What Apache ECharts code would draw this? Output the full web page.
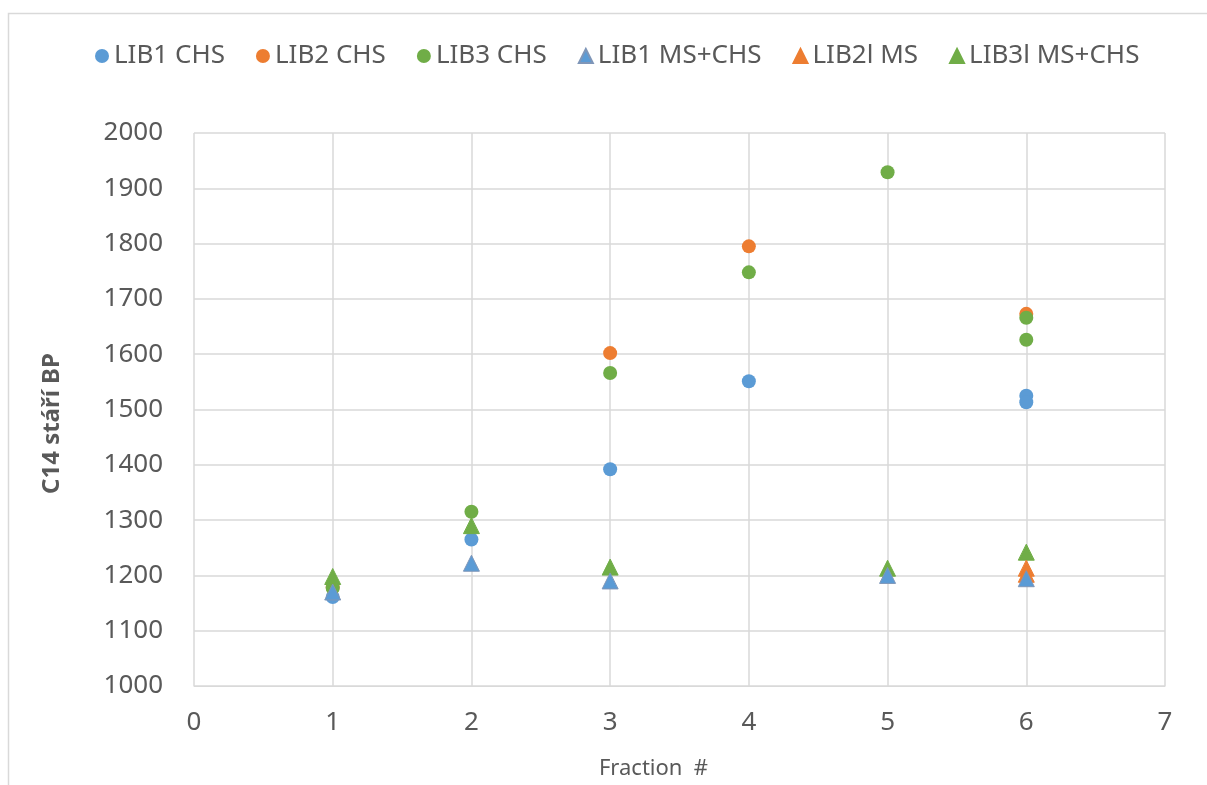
<!DOCTYPE html>
<html><head><meta charset="utf-8">
<script src="https://cdn.jsdelivr.net/npm/echarts@6/dist/echarts.min.js"></script>
<style>html,body{margin:0;padding:0;background:#fff}#c{width:1207px;height:785px}</style>
</head><body><div id="c"></div>
<script>
const seriesNames = ['LIB1 CHS','LIB2 CHS','LIB3 CHS','LIB1 MS+CHS','LIB2l MS','LIB3l MS+CHS'];
const lib1CHS = [[1,1161],[2,1265],[3,1392],[4,1551],[6,1525],[6,1513]];
const lib2CHS = [[1,1178],[3,1602],[4,1795],[6,1673]];
const lib3CHS = [[1,1177],[2,1315],[3,1566],[4,1748],[5,1929],[6,1666],[6,1626]];
const lib1MS = [[1,1170],[2,1222],[3,1190],[5,1200],[6,1194]];
const lib2MS = [[6,1213],[6,1202]];
const lib3MS = [[1,1198],[2,1290],[3,1215],[5,1213],[6,1242]];
const xTicks = {min:0,max:7,interval:1};
const yTicks = {min:1000,max:2000,interval:100};

const blue='#5B9BD5', orange='#ED7D31', green='#70AD47';
const font='"Noto Sans", sans-serif';
const txt='#595959';
function mk(name,data,color,symbol,size,z){
  return {name,type:'scatter',data,symbol,symbolSize:size,z,
    itemStyle:{color,borderColor: symbol==='triangle'&&color===blue?'#7f96b8':color,borderWidth: symbol==='triangle'?1:0,opacity:1}};
}
const chart = echarts.init(document.getElementById('c'));
chart.setOption({
  animation:false,
  graphic:[{type:'rect',shape:{x:8.5,y:13.5,width:1220,height:800},style:{fill:'none',stroke:'#d9d9d9',lineWidth:1.5},silent:true}],
  legend:{top:38,left:90,itemGap:31,itemWidth:14,itemHeight:14,
    textStyle:{fontFamily:font,fontSize:26,color:txt},
    data:seriesNames.map((n,i)=>({name:n,icon:i<3?'circle':'triangle'}))},
  grid:{left:194,right:42,top:133,bottom:99},
  xAxis:{type:'value',min:xTicks.min,max:xTicks.max,interval:xTicks.interval,
    name:'Fraction  #',nameLocation:'middle',nameGap:72,
    nameTextStyle:{fontFamily:font,fontSize:22,color:txt,padding:[0,52,0,0]},
    axisLine:{show:true,lineStyle:{color:'#d9d9d9'}},axisTick:{show:false},
    axisLabel:{fontFamily:font,fontSize:26,color:txt,margin:24},
    splitLine:{show:true,lineStyle:{color:'#d9d9d9',width:1.5}}},
  yAxis:{type:'value',min:yTicks.min,max:yTicks.max,interval:yTicks.interval,
    name:'C14 stáří BP',nameLocation:'middle',nameGap:130,
    nameTextStyle:{fontFamily:font,fontSize:24,color:txt,fontWeight:'bold',padding:[0,28,0,0]},
    axisLine:{show:false},axisTick:{show:false},
    axisLabel:{fontFamily:font,fontSize:26,color:txt,margin:31,formatter:v=>String(v)},
    splitLine:{show:true,lineStyle:{color:'#d9d9d9',width:1.5}}},
  series:[
    mk(seriesNames[0],lib1CHS,blue,'circle',14,3),
    mk(seriesNames[1],lib2CHS,orange,'circle',14,4),
    mk(seriesNames[2],lib3CHS,green,'circle',14,5),
    mk(seriesNames[3],lib1MS,blue,'triangle',16,8),
    mk(seriesNames[4],lib2MS,orange,'triangle',16,7),
    mk(seriesNames[5],lib3MS,green,'triangle',16,6)
  ]
});
</script></body></html>
